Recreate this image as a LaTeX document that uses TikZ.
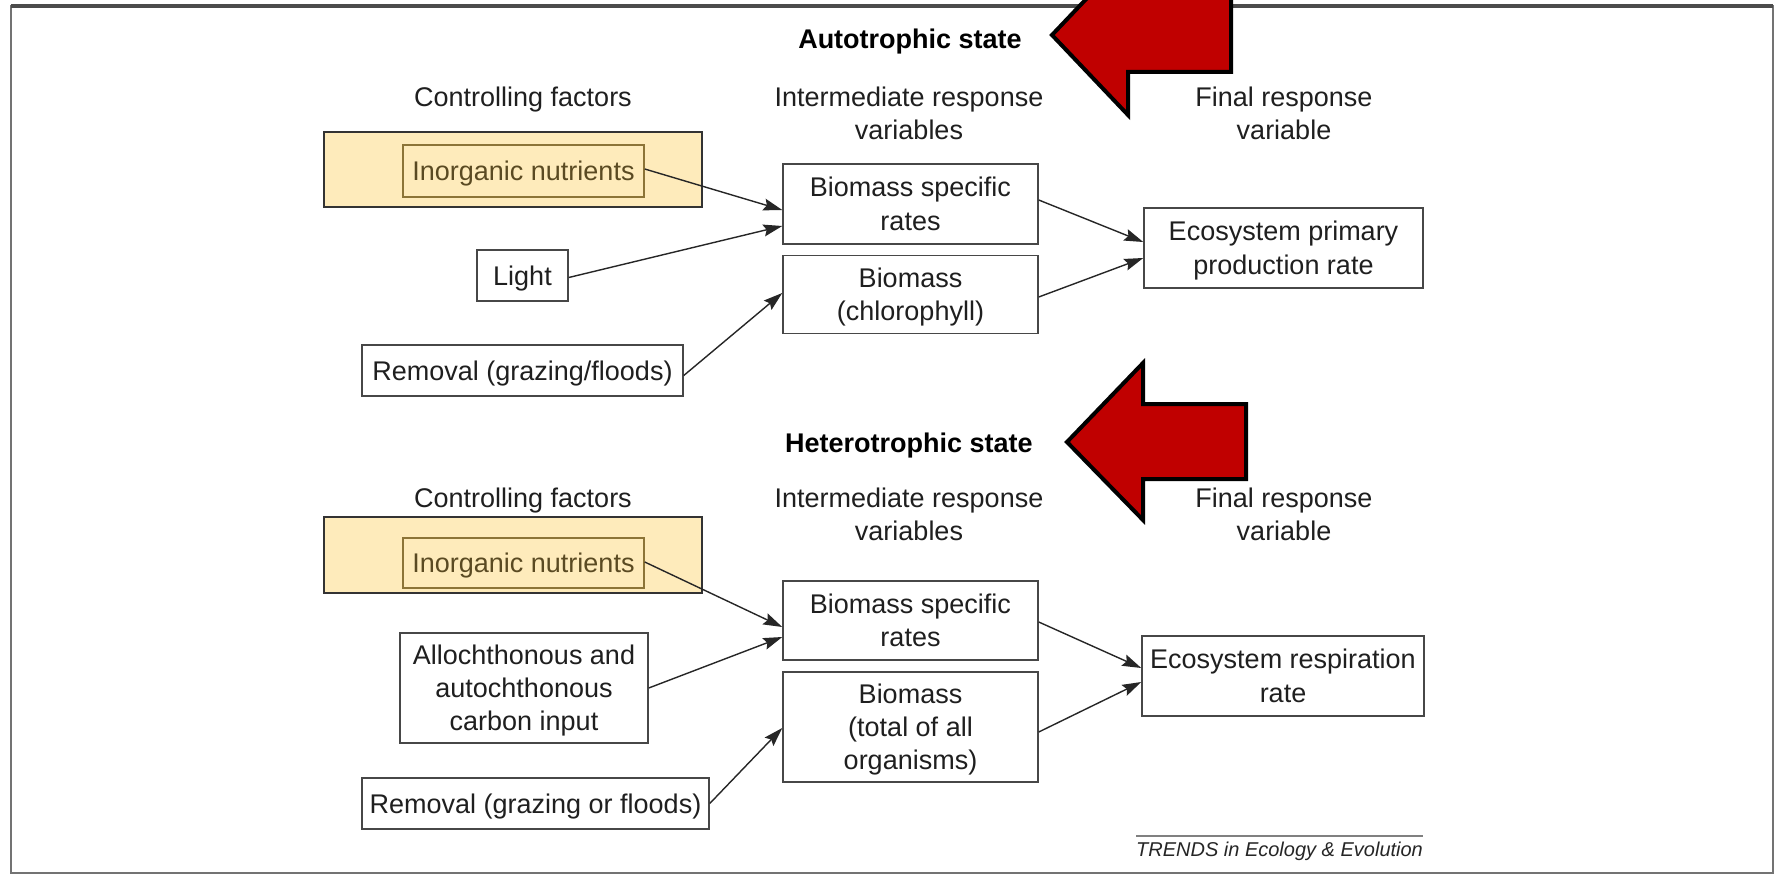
\documentclass[tikz,border=0pt]{standalone}
\usepackage{fontspec}
\setmainfont{Liberation Sans}
\usetikzlibrary{calc,arrows.meta}
\definecolor{hlfill}{HTML}{FEEBBB}
\definecolor{inbord}{HTML}{8C7437}
\definecolor{intext}{HTML}{5A4A22}
\definecolor{redarrow}{HTML}{C00000}
\newcommand\myfs{\fontsize{27}{33.3}\selectfont\lineskiplimit=-30pt\relax}
\newcommand\mystrut{\rule[-6pt]{0pt}{31pt}}
\begin{document}
\begin{tikzpicture}[x=1pt,y=-1pt,
  txt/.style={inner sep=0pt, align=center, font=\myfs},
  fbox/.style={txt, draw=black!72, line width=1.5pt, text=black!88},
  hlbox/.style={draw=black!80, line width=1.5pt, fill=hlfill, inner sep=0pt},
  inbox/.style={txt, draw=inbord, line width=1.5pt, text=intext},
  hdr/.style={txt, text=black!88},
  ttl/.style={txt, font=\myfs\bfseries, text=black},
  conn/.style={line width=1.4pt, draw=black!85, -{Stealth[length=19pt,width=12pt,inset=3pt]}},
  bigarrow/.style={fill=redarrow, draw=black, line width=4pt, line join=miter}
]
\useasboundingbox (0,0) rectangle (1775,875);
\clip (0,0) rectangle (1775,875);
\fill[white] (0,0) rectangle (1775,875);
% frame
\draw[black!55, line width=2pt] (11,6) rectangle (1773,873);
\draw[black!70, line width=3.5pt] (11,6) -- (1773,6);

% ---------- Autotrophic state ----------
\node[ttl] (tA) at (910,38.8) {\mystrut Autotrophic state\mystrut};
\node[hdr] (cf1) at (523,97.2) {\mystrut Controlling factors\mystrut};
\node[hdr] (ir1) at (909,113.8) {\mystrut Intermediate response\\variables\mystrut};
\node[hdr] (fr1) at (1284,113.8) {\mystrut Final response\\variable\mystrut};

\node[hlbox, minimum width=378pt, minimum height=75pt] (hl1) at (513,169.5) {};
\node[inbox, minimum width=241pt, minimum height=52pt] (in1) at (523.5,171) {\mystrut Inorganic nutrients\mystrut};
\node[fbox, minimum width=91pt, minimum height=51pt] (light) at (522.5,275.5) {\mystrut Light\mystrut};
\node[fbox, minimum width=321pt, minimum height=51pt] (rem1) at (522.5,370.5) {\mystrut Removal (grazing/floods)\mystrut};
\node[fbox, minimum width=255pt, minimum height=80pt] (bsr1) at (910.5,204) {\mystrut Biomass specific\\rates\mystrut};
\node[fbox, minimum width=255pt, minimum height=78pt] (bio1) at (910.5,294.5) {\mystrut Biomass\\(chlorophyll)\mystrut};
\node[fbox, minimum width=279pt, minimum height=80pt] (eco1) at (1283.5,248) {\mystrut Ecosystem primary\\production rate\mystrut};

\draw[conn] ($(in1.east)+(0,-2)$) -- ($(bsr1.west)+(0,6)$);
\draw[conn] ($(light.east)+(0,2)$) -- ($(bsr1.west)+(0,22)$);
\draw[conn] ($(rem1.east)+(0,5)$) -- ($(bio1.west)+(0,-1.5)$);
\draw[conn] ($(bsr1.east)+(0,-4)$) -- ($(eco1.west)+(0,-6)$);
\draw[conn] ($(bio1.east)+(0,2.5)$) -- ($(eco1.west)+(0,10)$);

% ---------- Heterotrophic state ----------
\node[ttl] (tH) at (909,443) {\mystrut Heterotrophic state\mystrut};
\node[hdr] (cf2) at (523,497.5) {\mystrut Controlling factors\mystrut};
\node[hdr] (ir2) at (909,514.2) {\mystrut Intermediate response\\variables\mystrut};
\node[hdr] (fr2) at (1284,514.2) {\mystrut Final response\\variable\mystrut};

\node[hlbox, minimum width=378pt, minimum height=76pt] (hl2) at (513,555) {};
\node[inbox, minimum width=241pt, minimum height=50pt] (in2) at (523.5,563) {\mystrut Inorganic nutrients\mystrut};
\node[fbox, minimum width=248pt, minimum height=110pt] (all) at (524,688) {\mystrut Allochthonous and\\autochthonous\\carbon input\mystrut};
\node[fbox, minimum width=347pt, minimum height=51pt] (rem2) at (535.5,803.5) {\mystrut Removal (grazing or floods)\mystrut};
\node[fbox, minimum width=255pt, minimum height=79pt] (bsr2) at (910.5,620.5) {\mystrut Biomass specific\\rates\mystrut};
\node[fbox, minimum width=255pt, minimum height=110pt] (bio2) at (910.5,727) {\mystrut Biomass\\(total of all\\organisms)\mystrut};
\node[fbox, minimum width=282pt, minimum height=80pt] (eco2) at (1283,676) {\mystrut Ecosystem respiration\\rate\mystrut};

\draw[conn] ($(in2.east)+(0,-1)$) -- ($(bsr2.west)+(0,6.5)$);
\draw[conn] (all.east) -- ($(bsr2.west)+(0,16.5)$);
\draw[conn] (rem2.east) -- ($(bio2.west)+(0,1)$);
\draw[conn] ($(bsr2.east)+(0,1.5)$) -- ($(eco2.west)+(0,-8)$);
\draw[conn] ($(bio2.east)+(0,5)$) -- ($(eco2.west)+(0,6)$);

% ---------- credit ----------
\coordinate (crL) at (1136,836);
\coordinate (crR) at (1423,836);
\draw[black!50, line width=1.8pt] (crL) -- (crR);
\node[inner sep=0pt, font=\fontsize{20}{24}\selectfont\itshape, text=black!85] (credit) at (1279.5,851) {TRENDS in Ecology \& Evolution};

% ---------- red block arrows ----------
\draw[bigarrow] (1052,35) -- (1128,-45) -- (1128,-2) -- (1231,-2) -- (1231,72) -- (1128,72) -- (1128,115) -- cycle;
\draw[bigarrow] (1067,442) -- (1143,363) -- (1143,404) -- (1246,404) -- (1246,479) -- (1143,479) -- (1143,520) -- cycle;
\end{tikzpicture}
\end{document}
